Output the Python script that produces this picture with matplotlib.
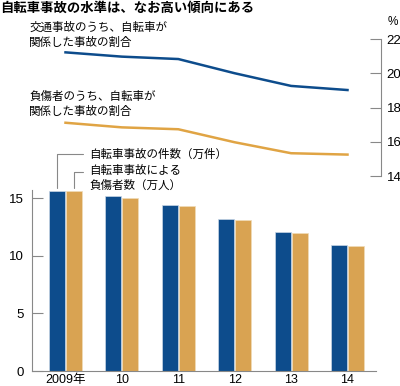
import matplotlib
matplotlib.use("Agg")
import matplotlib.pyplot as plt
import numpy as np

plt.rcParams['font.family'] = ['Noto Sans CJK JP', 'DejaVu Sans']

# data
years = ["2009年", "10", "11", "12", "13", "14"]
accidents = [15.6, 15.2, 14.4, 13.2, 12.1, 10.9]      # 万件
injured = [15.6, 15.0, 14.3, 13.1, 12.0, 10.8]        # 万人
share_accidents = [21.22, 20.97, 20.83, 20.0, 19.26, 19.02]   # %
share_injured = [17.11, 16.84, 16.73, 15.97, 15.33, 15.25]    # %

BLUE = "#0d4c8c"
ORANGE = "#d9a352"
LINE_ORANGE = "#e0a444"
GREY = "#888888"
NUMFONT = ['Liberation Sans', 'Noto Sans CJK JP']

W, H = 400, 386
fig = plt.figure(figsize=(W / 100, H / 100), dpi=100)

def box(x0, y0, x1, y1):
    # pixel box (top-left origin) -> figure fraction
    return [x0 / W, 1 - y1 / H, (x1 - x0) / W, (y1 - y0) / H]

x = np.arange(len(years))
step = 56.4
c0 = 65.5

# bars
ax = fig.add_axes(box(32, 190, 376, 371))
ax.set_xlim((32 - c0) / step, (376 - c0) / step)
ax.set_ylim(0, 15.7)
bw = 0.285
ax.bar(x - 0.15, accidents, bw, color=BLUE, edgecolor="#c9d6e6", linewidth=0.5)
ax.bar(x + 0.15, injured, bw, color=ORANGE, edgecolor="#f0dcb8", linewidth=0.5)
for s in ["top", "right"]:
    ax.spines[s].set_visible(False)
ax.spines["left"].set_color(GREY)
ax.spines["bottom"].set_color(GREY)
ax.set_yticks([0, 5, 10, 15])
ax.tick_params(axis="y", direction="in", length=8, color=GREY, labelsize=9.5, pad=6)
ax.set_xticks(x)
ax.set_xticklabels(years)
ax.tick_params(axis="x", length=0, labelsize=9, pad=2)
for lab in ax.get_xticklabels() + ax.get_yticklabels():
    lab.set_family(NUMFONT)

# legend callouts
ax.annotate("", xy=(-0.15, accidents[0]), xycoords="data",
            xytext=(86 / W, 1 - 154 / H), textcoords="figure fraction",
            arrowprops=dict(arrowstyle="-", color=GREY, lw=0.8,
                            connectionstyle="angle,angleA=0,angleB=90,rad=0"))
ax.annotate("", xy=(0.15, injured[0]), xycoords="data",
            xytext=(86 / W, 1 - 172 / H), textcoords="figure fraction",
            arrowprops=dict(arrowstyle="-", color=GREY, lw=0.8,
                            connectionstyle="angle,angleA=0,angleB=90,rad=0"))
fig.text(89 / W, 1 - 154 / H, "自転車事故の件数（万件）", fontsize=8.3,
         va="center", ha="left")
fig.text(89 / W, 1 - 178 / H, "自転車事故による\n負傷者数（万人）", fontsize=8.3,
         va="center", ha="left", linespacing=1.15)

# lines
lx = fig.add_axes(box(32, 39, 381, 176))
lx.patch.set_alpha(0)
lx.set_xlim((32 - c0) / step, (381 - c0) / step)
lx.set_ylim(14, 22)
lx.plot(x, share_accidents, color=BLUE, lw=1.8)
lx.plot(x, share_injured, color=LINE_ORANGE, lw=1.8)
for s in ["top", "left", "bottom"]:
    lx.spines[s].set_visible(False)
lx.spines["right"].set_color(GREY)
lx.yaxis.tick_right()
lx.set_yticks([14, 16, 18, 20, 22])
lx.tick_params(axis="y", direction="in", length=8, color=GREY, labelsize=9.5, pad=4)
for lab in lx.get_yticklabels():
    lab.set_family(NUMFONT)
lx.set_xticks([])
fig.text(388 / W, 1 - 22 / H, "%", fontsize=8.5, ha="left", va="center",
         family=NUMFONT)

fig.text(29 / W, 1 - 35 / H, "交通事故のうち、自転車が\n関係した事故の割合", fontsize=8.3,
         va="center", ha="left", linespacing=1.15)
fig.text(29 / W, 1 - 104 / H, "負傷者のうち、自転車が\n関係した事故の割合", fontsize=8.3,
         va="center", ha="left", linespacing=1.15)

fig.text(0, 1 - 8 / H, "自転車事故の水準は、なお高い傾向にある", fontsize=9.6,
         fontweight="bold", va="center", ha="left")

fig.savefig("out.png", dpi=100)
